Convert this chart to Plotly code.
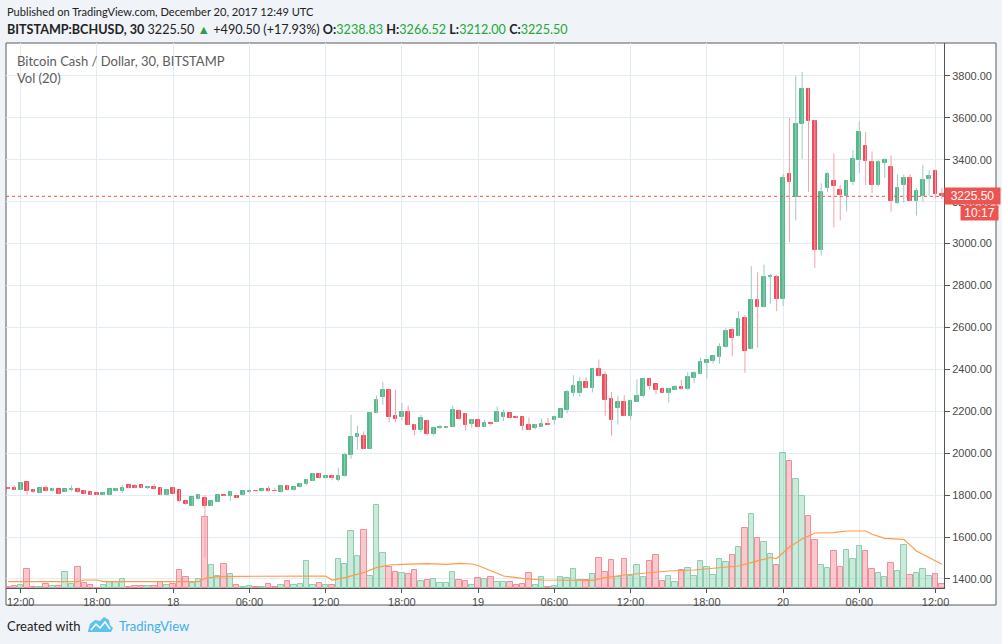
import pandas as pd
import plotly.graph_objects as go

# 30 minute candles, BITSTAMP:BCHUSD, 17 Dec 2017 11:00 UTC -> 20 Dec 2017 12:30 UTC
times = pd.date_range("2017-12-17 11:00", periods=148, freq="30min")

open_ = [
    # Dec 17 11:00 - 23:30
    1835, 1833, 1824, 1861, 1824, 1811, 1833, 1819, 1827, 1816, 1823, 1830, 1822,
    1814, 1811, 1802, 1802, 1819, 1819, 1847, 1844, 1847, 1835, 1838, 1835, 1802,
    # Dec 18
    1835, 1824, 1772, 1750, 1781, 1786, 1750, 1769, 1802, 1797, 1797, 1800,
    1814, 1822, 1819, 1827, 1822, 1814, 1846, 1824, 1838, 1852, 1868, 1903,
    1881, 1893, 1874, 1890, 1990, 2078, 2083, 2021, 2192, 2266, 2303, 2179,
    2175, 2198, 2137, 2111, 2156, 2092, 2118, 2121, 2127, 2202, 2187, 2141,
    # Dec 19
    2158, 2127, 2144, 2150, 2174, 2192, 2174, 2171, 2135, 2122, 2127, 2141,
    2160, 2169, 2207, 2286, 2286, 2340, 2312, 2400, 2372, 2258, 2215, 2245,
    2179, 2245, 2274, 2353, 2329, 2305, 2289, 2302, 2315, 2305, 2357, 2378,
    2430, 2438, 2460, 2506, 2586, 2559, 2646, 2498, 2729, 2697, 2841, 2841,
    # Dec 20 00:00 - 12:30
    2734, 3331, 3221, 3571, 3738, 3587, 2968, 3266, 3298, 3255, 3227, 3295,
    3400, 3464, 3388, 3281, 3385, 3364, 3195, 3281, 3312, 3205, 3227, 3307,
    3345, 3238.83,
]
high = [
    1838, 1847, 1862, 1863, 1826, 1835, 1847, 1836, 1829, 1830, 1847, 1833, 1824,
    1816, 1813, 1812, 1830, 1833, 1847, 1849, 1852, 1849, 1844, 1852, 1837, 1826,
    1838, 1826, 1774, 1791, 1805, 1800, 1774, 1802, 1804, 1818, 1799, 1821,
    1827, 1824, 1829, 1844, 1835, 1848, 1848, 1843, 1857, 1875, 1905, 1905,
    1895, 1898, 1931, 2002, 2183, 2132, 2104, 2194, 2275, 2341, 2305, 2303,
    2240, 2227, 2139, 2183, 2160, 2123, 2135, 2129, 2227, 2210, 2190, 2165,
    2167, 2160, 2152, 2223, 2208, 2194, 2180, 2173, 2171, 2138, 2166, 2169,
    2175, 2212, 2302, 2372, 2363, 2363, 2402, 2447, 2390, 2292, 2274, 2277,
    2252, 2353, 2355, 2356, 2331, 2307, 2310, 2326, 2350, 2387, 2390, 2456,
    2447, 2464, 2524, 2597, 2600, 2678, 2660, 2892, 2863, 2900, 2856, 2852,
    3331, 3600, 3800, 3819, 3740, 3590, 3287, 3341, 3430, 3279, 3300, 3445,
    3584, 3532, 3440, 3400, 3407, 3421, 3331, 3330, 3331, 3265, 3374, 3350,
    3353, 3266.52,
]
low = [
    1828, 1824, 1822, 1802, 1811, 1809, 1818, 1817, 1804, 1814, 1818, 1811, 1803,
    1800, 1800, 1800, 1800, 1817, 1811, 1833, 1833, 1833, 1828, 1826, 1800, 1800,
    1803, 1768, 1755, 1748, 1779, 1505, 1748, 1767, 1795, 1773, 1786, 1798,
    1812, 1817, 1817, 1816, 1817, 1812, 1822, 1822, 1836, 1847, 1866, 1879,
    1879, 1871, 1866, 1888, 1974, 2018, 2019, 2019, 2190, 2230, 2148, 2148,
    2156, 2135, 2085, 2100, 2085, 2085, 2116, 2119, 2125, 2160, 2108, 2120,
    2122, 2125, 2132, 2148, 2154, 2167, 2167, 2108, 2110, 2113, 2125, 2134,
    2136, 2167, 2190, 2270, 2270, 2310, 2290, 2366, 2179, 2084, 2136, 2177,
    2158, 2243, 2266, 2303, 2281, 2284, 2242, 2300, 2303, 2303, 2335, 2376,
    2356, 2428, 2427, 2504, 2464, 2557, 2384, 2496, 2503, 2695, 2713, 2678,
    2703, 3006, 3110, 3404, 3247, 2884, 2944, 3246, 3077, 3110, 3153, 3278,
    3337, 3279, 3241, 3271, 3314, 3153, 3189, 3195, 3203, 3134, 3200, 3226,
    3216, 3212.00,
]
close = [
    1830, 1825, 1860, 1820, 1814, 1833, 1820, 1830, 1806, 1828, 1828, 1816, 1805,
    1802, 1802, 1809, 1828, 1828, 1835, 1835, 1835, 1835, 1838, 1828, 1802, 1824,
    1805, 1770, 1757, 1789, 1800, 1750, 1772, 1800, 1797, 1816, 1788, 1819,
    1822, 1819, 1827, 1819, 1819, 1846, 1824, 1841, 1855, 1873, 1903, 1881,
    1893, 1881, 1890, 1993, 2078, 2091, 2021, 2192, 2254, 2303, 2175, 2164,
    2198, 2137, 2111, 2168, 2092, 2121, 2126, 2127, 2206, 2164, 2136, 2158,
    2124, 2144, 2139, 2195, 2192, 2169, 2169, 2132, 2113, 2136, 2141, 2136,
    2173, 2210, 2293, 2321, 2340, 2312, 2400, 2368, 2253, 2160, 2242, 2179,
    2250, 2274, 2353, 2321, 2302, 2286, 2305, 2315, 2305, 2362, 2383, 2435,
    2443, 2462, 2505, 2583, 2548, 2638, 2490, 2729, 2698, 2841, 2845, 2735,
    3315, 3295, 3571, 3738, 3584, 2968, 3244, 3331, 3276, 3232, 3298, 3402,
    3532, 3394, 3281, 3388, 3400, 3205, 3265, 3312, 3205, 3250, 3303, 3321,
    3238, 3225.50,
]
volume = [
    10, 20, 30, 187, 10, 7, 40, 17, 17, 160, 40, 210, 50,
    30, 5, 30, 63, 63, 90, 7, 17, 17, 17, 17, 57, 27,
    40, 180, 107, 50, 87, 710, 227, 117, 237, 137, 30, 10,
    17, 10, 10, 37, 10, 27, 67, 27, 37, 267, 27, 50,
    27, 27, 287, 237, 567, 320, 577, 120, 830, 347, 210, 160,
    150, 140, 177, 67, 77, 87, 50, 50, 160, 77, 70, 27,
    97, 90, 107, 60, 60, 60, 27, 40, 150, 27, 107, 10,
    20, 107, 97, 187, 77, 77, 137, 297, 160, 277, 107, 287,
    123, 227, 107, 267, 327, 70, 117, 60, 183, 197, 117, 267,
    210, 130, 287, 260, 330, 410, 603, 737, 497, 463, 337, 230,
    1350, 1270, 1087, 920, 717, 477, 227, 200, 367, 207, 377, 290,
    417, 367, 187, 147, 110, 247, 167, 427, 127, 147, 187, 117,
    137, 37,
]

# Vol (20) moving average
ma_time = [
    "2017-12-17 11:00", "2017-12-17 16:30", "2017-12-17 17:00", "2017-12-17 18:00",
    "2017-12-17 18:30", "2017-12-18 02:00", "2017-12-18 02:30", "2017-12-18 03:30",
    "2017-12-18 05:30", "2017-12-18 12:00", "2017-12-18 12:30", "2017-12-18 13:30",
    "2017-12-18 15:00", "2017-12-18 16:00", "2017-12-18 17:00", "2017-12-18 18:00",
    "2017-12-18 20:00", "2017-12-18 21:30", "2017-12-18 22:30", "2017-12-18 23:30",
    "2017-12-19 00:00", "2017-12-19 01:00", "2017-12-19 02:00", "2017-12-19 03:30",
    "2017-12-19 05:00", "2017-12-19 09:00", "2017-12-19 10:00", "2017-12-19 11:30",
    "2017-12-19 13:00", "2017-12-19 15:00", "2017-12-19 17:00", "2017-12-19 18:30",
    "2017-12-19 19:30", "2017-12-19 20:30", "2017-12-19 21:30", "2017-12-19 22:30",
    "2017-12-19 23:00", "2017-12-19 23:30", "2017-12-20 00:00", "2017-12-20 00:30",
    "2017-12-20 01:30", "2017-12-20 02:30", "2017-12-20 04:00", "2017-12-20 05:00",
    "2017-12-20 06:30", "2017-12-20 07:00", "2017-12-20 08:00", "2017-12-20 09:30",
    "2017-12-20 10:30", "2017-12-20 12:30",
]
ma_value = [
    63, 63, 80, 80, 63, 63, 97, 113, 117, 120, 80, 103, 153, 203, 230, 237,
    243, 237, 247, 240, 225, 175, 120, 97, 80, 77, 103, 130, 147, 170, 180,
    197, 203, 220, 253, 287, 305, 295, 350, 410, 490, 550, 553, 570, 570, 537,
    497, 487, 370, 237,
]

tick_times = pd.date_range("2017-12-17 12:00", "2017-12-20 12:00", freq="6h")
tick_text = ["12:00", "18:00", "18", "06:00", "12:00", "18:00", "19",
             "06:00", "12:00", "18:00", "20", "06:00", "12:00"]
price_ticks = list(range(1400, 3801, 200))

UP, DOWN = "#53b987", "#eb4d5c"
UP_WICK, DOWN_WICK = "#9fc9c5", "#f4a1a9"
GRID = "#e3ecf2"
AXIS_FONT = dict(family="Liberation Sans, Arial, sans-serif", size=11, color="#4a4a4a")
TEXT_FONT = "Lato, Open Sans, sans-serif"

# plot area in pixels
L, R, T, B = 6, 944, 43, 588


def px(x):
    return (x - L) / (R - L)


def py(y):
    return (B - y) / (B - T)


up = [c >= o for o, c in zip(open_, close)]
half_hour_ms = 30 * 60 * 1000

fig = go.Figure()

# volume pane (drawn first so it sits behind the candles)
for flag, fill, edge in [(True, "rgba(83,185,135,0.3)", "#8ccfad"),
                         (False, "rgba(235,77,92,0.3)", "#ee8e98")]:
    idx = [i for i, u in enumerate(up) if u == flag]
    fig.add_trace(go.Bar(
        x=[times[i] for i in idx], y=[volume[i] for i in idx],
        width=half_hour_ms * 0.86, marker=dict(color=fill, line=dict(color=edge, width=1)),
        yaxis="y", hoverinfo="skip", showlegend=False,
    ))
fig.add_trace(go.Scatter(
    x=pd.to_datetime(ma_time), y=ma_value, mode="lines",
    line=dict(color="#ff9a4b", width=1.2), yaxis="y", hoverinfo="skip", showlegend=False,
))

# wicks
for flag, col in [(True, UP_WICK), (False, DOWN_WICK)]:
    wx, wy = [], []
    for i, u in enumerate(up):
        if u == flag:
            wx += [times[i], times[i], None]
            wy += [low[i], high[i], None]
    fig.add_trace(go.Scatter(
        x=wx, y=wy, mode="lines", line=dict(color=col, width=1),
        yaxis="y2", hoverinfo="skip", showlegend=False,
    ))

# bodies
for flag, col in [(True, UP), (False, DOWN)]:
    idx = [i for i, u in enumerate(up) if u == flag]
    fig.add_trace(go.Bar(
        x=[times[i] for i in idx],
        base=[min(open_[i], close[i]) for i in idx],
        y=[abs(close[i] - open_[i]) for i in idx],
        width=half_hour_ms * 0.58,
        marker=dict(color=col, line=dict(color=col, width=1)),
        yaxis="y2", showlegend=False,
    ))

last = close[-1]
fig.add_shape(type="line", xref="paper", x0=0, x1=1, yref="y2", y0=last, y1=last,
              line=dict(color="#ef5350", width=1, dash="dot"))

# outer frame of the chart widget
fig.add_shape(type="rect", xref="paper", yref="paper", x0=px(6), x1=px(996),
              y0=py(605), y1=py(43), line=dict(color="#5a5a5a", width=1),
              fillcolor="white", layer="below")

annotations = [
    dict(x=px(5), y=py(11), text="Published on TradingView.com, December 20, 2017 12:49 UTC",
         font=dict(family=TEXT_FONT, size=11.1, color="#222")),
    dict(x=px(5), y=py(29),
         text="<b>BITSTAMP:BCHUSD, 30</b> 3225.50 <span style='color:#2ea043'>▲</span> "
              "+490.50 (+17.93%) <b>O:</b><span style='color:#22a83a'>3238.83</span> "
              "<b>H:</b><span style='color:#22a83a'>3266.52</span> "
              "<b>L:</b><span style='color:#22a83a'>3212.00</span> "
              "<b>C:</b><span style='color:#22a83a'>3225.50</span>",
         font=dict(family=TEXT_FONT, size=12.6, color="#222")),
    dict(x=px(15), y=py(61), text="Bitcoin Cash / Dollar, 30, BITSTAMP",
         font=dict(family=TEXT_FONT, size=13, color="#5c5c5c")),
    dict(x=px(15), y=py(78), text="Vol (20)",
         font=dict(family=TEXT_FONT, size=13, color="#5c5c5c")),
    dict(x=px(5), y=py(626), text="Created with",
         font=dict(family=TEXT_FONT, size=13, color="#222")),
    dict(x=px(117), y=py(626), text="TradingView",
         font=dict(family=TEXT_FONT, size=13, color="#3cb0e6")),
]
for a in annotations:
    a.update(xref="paper", yref="paper", xanchor="left", yanchor="middle",
             showarrow=False)
fig.update_layout(annotations=annotations)

# last price tag and bar countdown
fig.add_annotation(x=px(944), xref="paper", y=last, yref="y2", xanchor="left",
                   yanchor="middle", text=f"{last:.2f}", showarrow=False,
                   bgcolor="#ef5350", width=52, height=13, borderpad=1.5,
                   font=dict(family="Liberation Sans, Arial", size=12, color="white"))
fig.add_annotation(x=px(999), xref="paper", y=last, yref="y2", yshift=-17,
                   xanchor="right", yanchor="middle", text="10:17", showarrow=False,
                   bgcolor="#ef5350", width=34, height=11, borderpad=1.5,
                   font=dict(family="Liberation Sans, Arial", size=12, color="white"))

# TradingView logo (small cloud)
cloud = [(88, 631), (90, 624), (95, 620), (100, 621), (104, 617), (109, 620),
         (110, 625), (113, 628), (111, 632), (88, 632)]
path = "M " + " L ".join(f"{px(x):.5f},{py(y):.5f}" for x, y in cloud) + " Z"
fig.add_shape(type="path", xref="paper", yref="paper", path=path,
              fillcolor="#5ec3ec", line=dict(width=0))
zig = [(91, 630), (96, 624), (100, 628), (105, 622), (110, 629)]
fig.add_shape(type="path", xref="paper", yref="paper",
              path="M " + " L ".join(f"{px(x):.5f},{py(y):.5f}" for x, y in zig),
              line=dict(color="white", width=1.5))

fig.update_layout(
    width=1002, height=644,
    margin=dict(l=L, r=1002 - R, t=T, b=644 - B),
    paper_bgcolor="#f0f3f7", plot_bgcolor="white",
    barmode="overlay", bargap=0,
    xaxis=dict(
        type="date", range=["2017-12-17 10:50:30", "2017-12-20 12:40:00"],
        tickvals=tick_times, ticktext=tick_text, tickangle=0,
        showgrid=True, gridcolor=GRID, gridwidth=1, zeroline=False,
        ticks="outside", ticklen=4, tickcolor="#555",
        showline=True, linecolor="#555", linewidth=1,
        tickfont=AXIS_FONT, fixedrange=True,
    ),
    yaxis=dict(range=[0, (B - T) * 10], visible=False, fixedrange=True),
    yaxis2=dict(
        overlaying="y", side="right", range=[1357, 3957],
        tickvals=price_ticks, ticktext=[f"{v:.2f}" for v in price_ticks],
        showgrid=True, gridcolor=GRID, gridwidth=1, zeroline=False,
        ticks="outside", ticklen=5, tickcolor="#555",
        showline=True, linecolor="#555", linewidth=1,
        tickfont=AXIS_FONT, fixedrange=True,
    ),
)

fig.write_html("out.html", config={"displayModeBar": False},
               post_script="document.body.style.margin='0px';")
